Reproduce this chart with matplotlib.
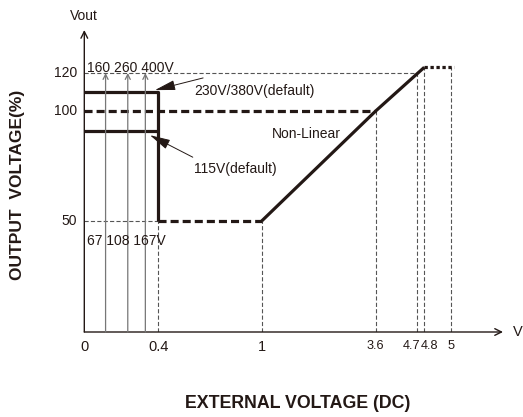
import numpy as np
import matplotlib
matplotlib.use('Agg')
import matplotlib.pyplot as plt

plt.rcParams['font.family'] = ['Liberation Sans', 'DejaVu Sans']
plt.rcParams['lines.scale_dashes'] = False

# breakpoints of the (non linear) printed axes: value -> pixel offset from origin
x_break = [-1.0, 0.0, 0.4, 1.0, 3.6, 4.7, 4.8, 5.0, 6.0]
x_pix = [-185.0, 0.0, 74.0, 177.4, 291.4, 332.4, 340.0, 366.7, 500.0]
y_break = [-50, 0, 50, 100, 120, 140, 200]
y_pix = [-111, 0, 111, 221, 259, 297, 411]

x_ticks = [0, 0.4, 1, 3.6, 4.7, 4.8, 5]
x_ticklabels = ['0', '0.4', '1', '3.6', '4.7', '4.8', '5']
y_ticks = [50, 100, 120]

# control curve
ramp_x = [1.0, 3.6, 4.8]
ramp_y = [50, 100, 123]
box_hi = 110   # 230V/380V(default)
box_lo = 91    # 115V(default)
x_cut = 0.4

# input-voltage markers
vin_x = [0.115, 0.235, 0.33]
vin_top = '160 260 400V'
vin_bot = '67 108 167V'

C = '#231815'
G = '#555555'


def fwd(v):
    return np.interp(v, x_break, x_pix)


def inv(v):
    return np.interp(v, x_pix, x_break)


def fwdy(v):
    return np.interp(v, y_break, y_pix)


def invy(v):
    return np.interp(v, y_pix, y_break)


W, H = 523, 417
fig = plt.figure(figsize=(W / 100, H / 100), dpi=100)
x0, y0 = 84.3, 332.0
top = 30.0
ax = fig.add_axes([x0 / W, (H - y0) / H, (503 - x0) / W, (y0 - top) / H])
ax.set_xscale('function', functions=(fwd, inv))
ax.set_yscale('function', functions=(fwdy, invy))
ax.set_xlim(0, inv(503 - x0))
ax.set_ylim(0, invy(y0 - top))
for s in ax.spines.values():
    s.set_visible(False)
ax.set_xticks([])
ax.set_yticks([])

# axes arrows
ax.annotate('', xy=(1, 0), xytext=(0, 0), xycoords='axes fraction',
            arrowprops=dict(arrowstyle='->', color=C, lw=1.0, mutation_scale=12,
                            shrinkA=0, shrinkB=0))
ax.annotate('', xy=(0, 1), xytext=(0, 0), xycoords='axes fraction',
            arrowprops=dict(arrowstyle='->', color=C, lw=1.0, mutation_scale=12,
                            shrinkA=0, shrinkB=0))

thin = dict(color=G, lw=0.8, dashes=(3, 1.6))
# thin dashed guides
ax.plot([0, 4.7], [120, 120], **thin)
ax.plot([0, x_cut], [50, 50], **thin)
ax.plot([x_cut, x_cut], [0, 50], **thin)
ax.plot([1, 1], [0, 50], **thin)
ax.plot([3.6, 3.6], [0, 100], **thin)
ax.plot([4.7, 4.7], [0, 120], **thin)
ax.plot([4.8, 4.8], [0, 123], **thin)
ax.plot([5, 5], [0, 123], **thin)

# input-voltage markers
for xv in vin_x:
    ax.annotate('', xy=(xv, 120), xytext=(xv, 0),
                arrowprops=dict(arrowstyle='->', color='#777777', lw=0.9,
                                mutation_scale=9, shrinkA=0, shrinkB=0))

thick = dict(color=C, lw=2.3, solid_capstyle='butt')
ax.plot([0, x_cut, x_cut], [box_hi, box_hi, 50], **thick)
ax.plot([0, x_cut], [box_lo, box_lo], **thick)
ax.plot([0, 3.6], [100, 100], dashes=(5.8, 2.9), **thick)
ax.plot([x_cut, 1], [50, 50], dashes=(5.8, 2.9), **thick)
ax.plot(ramp_x, ramp_y, **thick)
ax.plot([4.8, 5.02], [123, 123], dashes=(2.4, 1.9), **thick)

fs = 10
for xv, lab in zip(x_ticks, x_ticklabels):
    dx = 0
    size = 10.5
    if xv > 3:
        size = 9.2
    if lab == '4.7':
        dx = -3.4
    if lab == '4.8':
        dx = 3.4
    ax.annotate(lab, xy=(xv, 0), xytext=(dx, -5.5), textcoords='offset points',
                ha='center', va='top', fontsize=size, color=C)
for yv in y_ticks:
    ax.annotate(str(yv), xy=(0, yv), xytext=(-5, 0), textcoords='offset points',
                ha='right', va='center', fontsize=fs, color=C)

ax.annotate('V', xy=(1, 0), xycoords='axes fraction', xytext=(7, 0),
            textcoords='offset points', ha='left', va='center', fontsize=10.5, color=C)
ax.annotate('Vout', xy=(0, 1), xycoords='axes fraction', xytext=(0, 5),
            textcoords='offset points', ha='center', va='bottom', fontsize=fs, color=C)

ax.text(0.015, 122.6, vin_top, ha='left', va='center', fontsize=fs, color=C)
ax.text(0.015, 41, vin_bot, ha='left', va='center', fontsize=fs, color=C)
ax.text(1.235, 89.5, 'Non-Linear', ha='left', va='center', fontsize=fs, color=C)

head = '-|>,head_length=0.9,head_width=0.22'
ax.text(0.61, 110.5, '230V/380V(default)', ha='left', va='center', fontsize=fs, color=C)
ax.annotate('', xy=(0.382, 111), xytext=(0.66, 117.4),
            arrowprops=dict(arrowstyle=head, color=C, lw=0.7, mutation_scale=14,
                            shrinkA=0, shrinkB=0))
ax.text(0.61, 73.6, '115V(default)', ha='left', va='center', fontsize=fs, color=C)
ax.annotate('', xy=(0.355, 89), xytext=(0.60, 79),
            arrowprops=dict(arrowstyle=head, color=C, lw=0.7, mutation_scale=14,
                            shrinkA=0, shrinkB=0))

fig.text(17.5 / W, 1 - 185 / H, 'OUTPUT  VOLTAGE(%)', rotation=90, ha='center', va='center',
         fontsize=12.5, fontweight='bold', color=C)
fig.text(298 / W, 1 - 403 / H, 'EXTERNAL VOLTAGE (DC)', ha='center', va='center',
         fontsize=12.8, fontweight='bold', color=C)

fig.savefig('out.png', dpi=100)
